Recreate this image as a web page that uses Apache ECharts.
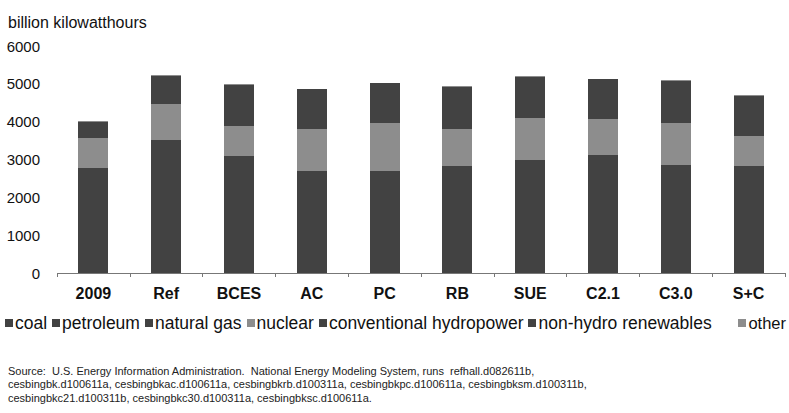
<!DOCTYPE html>
<html>
<head>
<meta charset="utf-8">
<script src="https://cdn.jsdelivr.net/npm/echarts@6/dist/echarts.min.js"></script>
<style>html,body{margin:0;padding:0;background:#fff;}#c{width:789px;height:413px;}
#c svg path{shape-rendering:crispEdges;}</style>
</head>
<body>
<div id="c"></div>
<script>
var categories = ['2009','Ref','BCES','AC','PC','RB','SUE','C2.1','C3.0','S+C'];
var coal        = [1790, 2190, 1320, 1100, 1050, 1150, 1250, 1400, 1200, 1300];
var petroleum   = [40, 35, 30, 30, 30, 30, 30, 30, 30, 30];
var naturalGas  = [947, 1303, 1753, 1557, 1607, 1640, 1717, 1700, 1635, 1495];
var nuclear     = [796, 928, 778, 1106, 1284, 992, 1106, 928, 1087, 790];
var hydro       = [273, 300, 305, 305, 305, 305, 305, 305, 305, 305];
var renewables  = [150, 450, 785, 760, 741, 810, 784, 760, 829, 760];
var other       = [17, 19, 16, 15, 15, 15, 15, 15, 15, 15];
var yTicks = [0, 1000, 2000, 3000, 4000, 5000, 6000];

var DARK = '#424242', LIGHT = '#8d8d8d';
function s(name, data, color) {
  return { name: name, type: 'bar', stack: 'total', data: data, barWidth: 30,
           itemStyle: { color: color }, emphasis: { disabled: true } };
}
var legendBase = {
  top: 309, itemWidth: 8, itemHeight: 8, itemGap: 5, icon: 'rect',
  textStyle: { fontSize: 17.5, color: '#111', padding: [0, 0, 0, -3] }
};
var chart = echarts.init(document.getElementById('c'), null, { renderer: 'svg' });
chart.setOption({
  animation: false,
  backgroundColor: '#fff',
  textStyle: { fontFamily: 'Liberation Sans, Arial, sans-serif' },
  title: [{
    text: 'billion kilowatthours', left: 3, top: 9,
    textStyle: { fontSize: 16, fontWeight: 'normal', color: '#111' }
  }, {
    text: 'Source:  U.S. Energy Information Administration.  National Energy Modeling System, runs  refhall.d082611b,\ncesbingbk.d100611a, cesbingbkac.d100611a, cesbingbkrb.d100311a, cesbingbkpc.d100611a, cesbingbksm.d100311b,\ncesbingbkc21.d100311b, cesbingbkc30.d100311a, cesbingbksc.d100611a.',
    left: 3, top: 359,
    textStyle: { fontSize: 11, fontWeight: 'normal', color: '#222', lineHeight: 13.5 }
  }],
  legend: [
    Object.assign({}, legendBase, { left: 0, width: 780,
      data: ['coal','petroleum','natural gas','nuclear','conventional hydropower','non-hydro renewables'] }),
    Object.assign({}, legendBase, { right: 0, padding: [5, 3, 5, 5],
      textStyle: { fontSize: 16.5, color: '#111', padding: [0, 0, 0, -3] }, data: ['other'] })
  ],
  grid: { left: 57, right: 4, top: 46, bottom: 140 },
  xAxis: {
    type: 'category', data: categories,
    axisLine: { lineStyle: { color: '#777', width: 1 } },
    axisTick: { show: true, length: 4, lineStyle: { color: '#777' } },
    axisLabel: { fontSize: 16, fontWeight: 'bold', color: '#111', margin: 12 }
  },
  yAxis: {
    type: 'value', min: 0, max: 6000, interval: 1000,
    axisLine: { show: false }, axisTick: { show: false }, splitLine: { show: false },
    axisLabel: { fontSize: 15, color: '#111', margin: 17,
      formatter: function (v) { return yTicks.indexOf(v) >= 0 ? String(v) : ''; } }
  },
  series: [
    s('coal', coal, DARK),
    s('petroleum', petroleum, DARK),
    s('natural gas', naturalGas, DARK),
    s('nuclear', nuclear, LIGHT),
    s('conventional hydropower', hydro, DARK),
    s('non-hydro renewables', renewables, DARK),
    s('other', other, LIGHT)
  ]
});
</script>
</body>
</html>
